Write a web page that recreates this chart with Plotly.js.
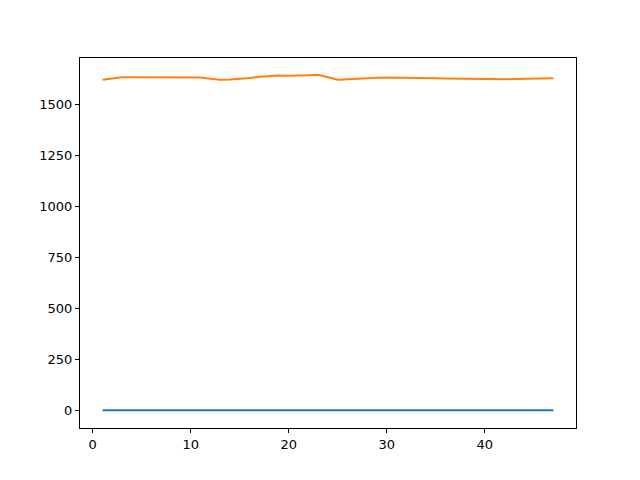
<!DOCTYPE html>
<html>
<head>
<meta charset="utf-8">
<script src="https://cdn.plot.ly/plotly-3.0.1.min.js"></script>
<style>html,body{margin:0;padding:0;background:#fff;}#chart{width:640px;height:480px;}</style>
</head>
<body>
<div id="chart"></div>
<script>
const xValues = [1,2,3,4,5,6,7,8,9,10,11,12,13,14,15,16,17,18,19,20,21,22,23,24,25,26,27,28,29,30,31,32,33,34,35,36,37,38,39,40,41,42,43,44,45,46,47];
const blueSeries = [1,1,1,1,1,1,1,1,1,1,1,1,1,1,1,1,1,1,1,1,1,1,1,1,1,1,1,1,1,1,1,1,1,1,1,1,1,1,1,1,1,1,1,1,1,1,1];
const orangeSeries = [1620,1625,1632,1632,1632,1632,1632,1632,1630,1630,1630,1624,1620,1621,1624,1628,1634,1637,1640,1639,1639,1641,1644,1633,1620,1622,1625,1627,1629,1630,1630,1630,1629,1628,1627,1626,1625,1624,1623,1622,1622,1622,1623,1624,1625,1626,1627];
const xTicks = [0,10,20,30,40];
const yTicks = [0,250,500,750,1000,1250,1500];

const traces = [
  {x: xValues, y: blueSeries, type: 'scatter', mode: 'lines', line: {color: '#1f77b4', width: 2}, showlegend: false},
  {x: xValues, y: orangeSeries, type: 'scatter', mode: 'lines', line: {color: '#ff7f0e', width: 2}, showlegend: false}
];
const axisCommon = {
  showgrid: false, zeroline: false, showline: true, mirror: true,
  linecolor: '#000', linewidth: 1, ticks: 'outside', ticklen: 4, tickwidth: 1, tickcolor: '#000',
  tickfont: {family: 'DejaVu Sans', size: 13, color: '#000'}
};
const layout = {
  width: 640, height: 480,
  margin: {l: 80, r: 64, t: 58, b: 52},
  paper_bgcolor: '#fff', plot_bgcolor: '#fff',
  xaxis: Object.assign({}, axisCommon, {range: [-1.3, 49.3], tickvals: xTicks, ticktext: xTicks.map(String)}),
  yaxis: Object.assign({}, axisCommon, {range: [-86, 1726], tickvals: yTicks, ticktext: yTicks.map(String)})
};
Plotly.newPlot('chart', traces, layout, {staticPlot: true, displayModeBar: false});
</script>
</body>
</html>
